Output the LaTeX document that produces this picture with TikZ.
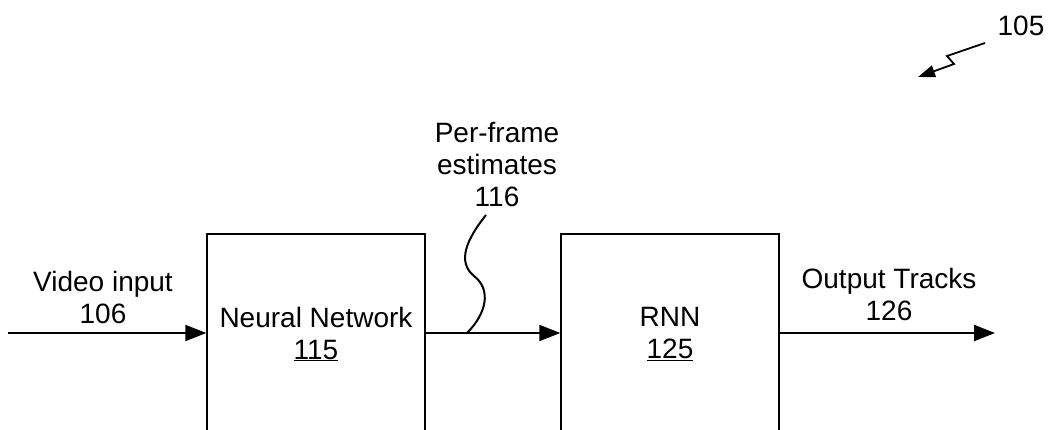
\documentclass[tikz,border=0pt]{standalone}
\usepackage{fontspec}
\setmainfont{Liberation Sans}
\usetikzlibrary{arrows.meta}
\begin{document}
\begin{tikzpicture}[x=1pt,y=-1pt,
  lbl/.style={align=center,font=\fontsize{28}{32}\selectfont,inner sep=0pt},
  blockbox/.style={draw,line width=1.4pt,minimum width=218pt,minimum height=200pt,
    align=center,font=\fontsize{28}{32}\selectfont,inner sep=0pt},
  flow/.style={line width=2.2pt,-{Triangle[length=21pt,width=16pt]}},
  lead/.style={line width=2pt},
]
\useasboundingbox (0,0) rectangle (1051,430);
\clip (0,0) rectangle (1051,430);

% processing blocks
\node[blockbox] (nn)  at (316,334) {Neural Network\\\underline{115}};
\node[blockbox] (rnn) at (670,334) {RNN\\\underline{125}};

% signal flow
\coordinate (vin) at (8,333);
\coordinate (vout) at (995,333);
\draw[flow] (vin) -- (vin -| nn.west);
\draw[flow] (vin -| nn.east) -- (vin -| rnn.west);
\draw[flow] (vin -| rnn.east) -- (vout);

% signal labels
\node[lbl] (lin)  at (103,297) {Video input\\106};
\node[lbl] (lout) at (889,294) {Output Tracks\\126};
\node[lbl] (lest) at (497,165) {Per-frame\\estimates\\116};

% leader from the per-frame label to the middle connector
\coordinate (tip) at (467,333);
\draw[lead] (486,215) .. controls (466,240) and (457,262) .. (474,276)
  .. controls (492,290) and (486,314) .. (tip);

% figure reference
\node[lbl] (fig) at (1021,26) {105};
\coordinate (zz) at (985,43);
\coordinate (zend) at (918,77);
\draw[line width=1.8pt,-{Triangle[length=17pt,width=12pt]}]
  (zz) -- (947,56) -- (954,64) -- (zend);
\end{tikzpicture}
\end{document}
